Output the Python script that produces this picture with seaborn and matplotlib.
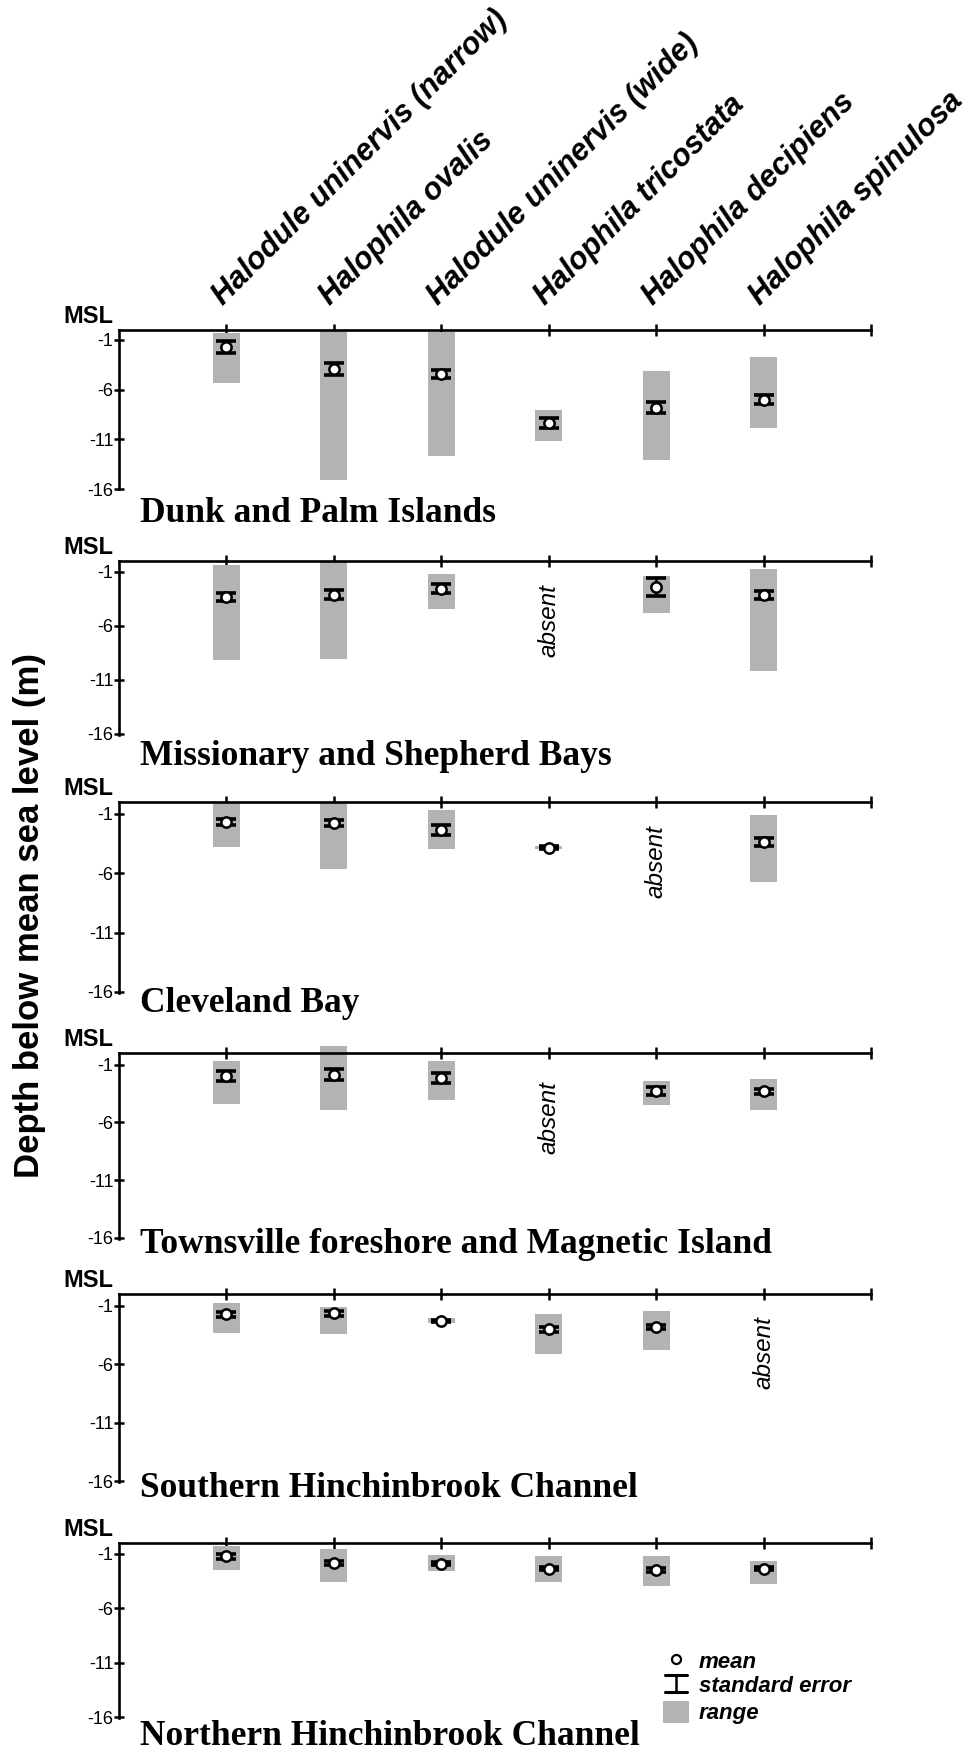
import numpy as np
import pandas as pd
import matplotlib
matplotlib.use("Agg")
import matplotlib.pyplot as plt
import seaborn as sns
from matplotlib.lines import Line2D
from matplotlib.patches import Rectangle

# ---------------- data ----------------
species = ["Halodule uninervis (narrow)", "Halophila ovalis", "Halodule uninervis (wide)",
           "Halophila tricostata", "Halophila decipiens", "Halophila spinulosa"]
regions = ["Dunk and Palm Islands", "Missionary and Shepherd Bays", "Cleveland Bay",
           "Townsville foreshore and Magnetic Island", "Southern Hinchinbrook Channel",
           "Northern Hinchinbrook Channel"]
nan = np.nan

dunk_mean = [-1.68, -3.93, -4.40, -9.35, -7.80, -7.00]
dunk_se = [0.60, 0.60, 0.42, 0.50, 0.60, 0.45]
dunk_top = [-0.27, 0.00, -0.17, -8.06, -4.13, -2.72]
dunk_bottom = [-5.30, -15.10, -12.65, -11.15, -13.10, -9.83]

miss_mean = [-3.32, -3.10, -2.55, nan, -2.40, -3.17]
miss_se = [0.38, 0.38, 0.40, nan, 0.80, 0.37]
miss_top = [-0.40, 0.00, -1.23, nan, -1.42, -0.77]
miss_bottom = [-9.17, -9.08, -4.46, nan, -4.80, -10.15]

clev_mean = [-1.68, -1.76, -2.38, -3.84, nan, -3.36]
clev_se = [0.28, 0.28, 0.42, 0.10, nan, 0.35]
clev_top = [-0.05, -0.05, -0.64, -3.72, nan, -1.12]
clev_bottom = [-3.78, -5.63, -3.98, -3.96, nan, -6.72]

town_mean = [-2.02, -1.87, -2.16, nan, -3.26, -3.31]
town_se = [0.43, 0.46, 0.46, nan, 0.33, 0.22]
town_top = [-0.66, 0.63, -0.66, nan, -2.39, -2.22]
town_bottom = [-4.38, -4.96, -4.09, nan, -4.47, -4.96]

shin_mean = [-1.74, -1.66, -2.31, -3.03, -2.80, nan]
shin_se = [0.20, 0.20, 0.12, 0.20, 0.17, nan]
shin_top = [-0.74, -1.09, -2.03, -1.71, -1.46, nan]
shin_bottom = [-3.31, -3.43, -2.51, -5.14, -4.80, nan]

nhin_mean = [-1.23, -1.85, -1.90, -2.37, -2.46, -2.37]
nhin_se = [0.20, 0.20, 0.15, 0.15, 0.20, 0.15]
nhin_top = [-0.31, -0.52, -1.08, -1.17, -1.17, -1.69]
nhin_bottom = [-2.46, -3.63, -2.55, -3.63, -3.94, -3.75]

# depth at which the word "absent" is centred (region index, species index, depth)
absent_region = [1, 2, 3, 4]
absent_species = [3, 4, 3, 5]
absent_depth = [-5.5, -5.0, -5.6, -5.0]

ytick_vals = [-1, -6, -11, -16]
ytick_labels = ["-1", "-6", "-11", "-16"]

means = [dunk_mean, miss_mean, clev_mean, town_mean, shin_mean, nhin_mean]
ses = [dunk_se, miss_se, clev_se, town_se, shin_se, nhin_se]
tops = [dunk_top, miss_top, clev_top, town_top, shin_top, nhin_top]
bottoms = [dunk_bottom, miss_bottom, clev_bottom, town_bottom, shin_bottom, nhin_bottom]

# ---------------- style ----------------
sns.set_theme(style="white")
plt.rcParams["font.family"] = ["Liberation Sans", "DejaVu Sans"]
plt.rcParams["axes.edgecolor"] = "black"

W, H = 971, 1753
fig = plt.figure(figsize=(W / 100, H / 100), dpi=100)


def fx(px):
    return px / W


def fy(py):
    return 1 - py / H


# panel geometry in pixels: (MSL line y, -16 y)
panel_px = [(330, 489), (561, 734), (802, 992), (1053, 1238), (1294, 1481), (1543, 1717)]
title_base = [522, 765, 1012, 1253, 1497, 1745]
left_px, right_px = 119, 871
YMIN = -16.05

gray = "#b3b3b3"
axes = []
for k, (t, b) in enumerate(panel_px):
    unit = (b - t) / 16.0
    bot_px = b + (-16 - YMIN) * unit
    ax = fig.add_axes([fx(left_px), fy(bot_px), (right_px - left_px) / W, (bot_px - t) / H])
    ax.set_facecolor("none")
    axes.append(ax)

    df = pd.DataFrame({
        "species": species,
        "x": np.arange(1, 7),
        "mean": means[k],
        "se": ses[k],
        "top": tops[k],
        "bottom": bottoms[k],
    }).dropna()

    ax.bar(df["x"], df["top"] - df["bottom"], bottom=df["bottom"], width=0.25,
           color=gray, edgecolor="none", zorder=1, clip_on=False)
    ax.errorbar(df["x"], df["mean"], yerr=df["se"], fmt="none", ecolor="black",
                elinewidth=1.8, capsize=7.5, capthick=2.6, zorder=3, clip_on=False)
    sns.scatterplot(data=df, x="x", y="mean", ax=ax, marker="o", s=55,
                    color="white", edgecolor="black", linewidth=1.8, zorder=4,
                    legend=False, clip_on=False)

    ax.set_xlim(0, 7)
    ax.set_ylim(YMIN, 0)
    ax.set_xlabel("")
    ax.set_ylabel("")
    for s in ["bottom", "right"]:
        ax.spines[s].set_visible(False)
    for s in ["top", "left"]:
        ax.spines[s].set_linewidth(1.9)
        ax.spines[s].set_color("black")
    ax.xaxis.tick_top()
    ax.set_xticks(range(1, 8))
    ax.set_xticklabels([])
    ax.tick_params(axis="x", which="both", direction="inout", length=8, width=1.8,
                   top=True, bottom=False, labeltop=False, labelbottom=False, color="black")
    ax.set_yticks(ytick_vals)
    ax.set_yticklabels(ytick_labels)
    ax.tick_params(axis="y", direction="inout", length=7, width=1.8, left=True,
                   labelsize=13, pad=0.5, color="black", labelcolor="black")
    ax.annotate("MSL", xy=(0, 1), xycoords="axes fraction", xytext=(-4, 1.5),
                textcoords="offset points", ha="right", va="bottom",
                fontsize=17, fontweight="bold", color="black", annotation_clip=False)
    fig.text(fx(140), fy(title_base[k]), regions[k], family=["Liberation Serif", "DejaVu Serif"],
             fontsize=25.5, fontweight="bold", ha="left", va="baseline", color="black")

for r, s_i, d in zip(absent_region, absent_species, absent_depth):
    axes[r].text(s_i + 1, d, "absent", rotation=90, ha="center", va="center",
                 fontsize=17.5, fontstyle="italic", color="black")

# species labels above the first panel
for i, sp in enumerate(species):
    axes[0].annotate(sp, xy=(i + 1, 0), xycoords="data", xytext=(-2.5, 17),
                     textcoords="offset points", rotation=45, rotation_mode="anchor",
                     ha="left", va="baseline", fontsize=22, fontweight="bold",
                     fontstyle="italic", color="black", annotation_clip=False)

fig.text(fx(30), fy(916), "Depth below mean sea level (m)", rotation=90, ha="center",
         va="center", fontsize=25, fontweight="bold", color="black")

# key
fig.add_artist(Line2D([fx(676)], [fy(1659)], marker="o", markersize=6.5, mfc="white",
                      mec="black", mew=1.6, ls="none", transform=fig.transFigure))
fig.add_artist(Line2D([fx(676), fx(676)], [fy(1675), fy(1692)], color="black", lw=1.8,
                      transform=fig.transFigure))
for yy in (1675, 1692):
    fig.add_artist(Line2D([fx(665), fx(687)], [fy(yy), fy(yy)], color="black", lw=2.2,
                          transform=fig.transFigure))
fig.add_artist(Rectangle((fx(663), fy(1723)), fx(689) - fx(663), (1723 - 1701) / H,
                         facecolor=gray, edgecolor="none", transform=fig.transFigure))
for txt, yy in zip(["mean", "standard error", "range"], [1663, 1687, 1713]):
    fig.text(fx(699), fy(yy), txt, fontsize=16, fontweight="bold", fontstyle="italic",
             ha="left", va="center", color="black")

fig.savefig("out.png", dpi=100)
